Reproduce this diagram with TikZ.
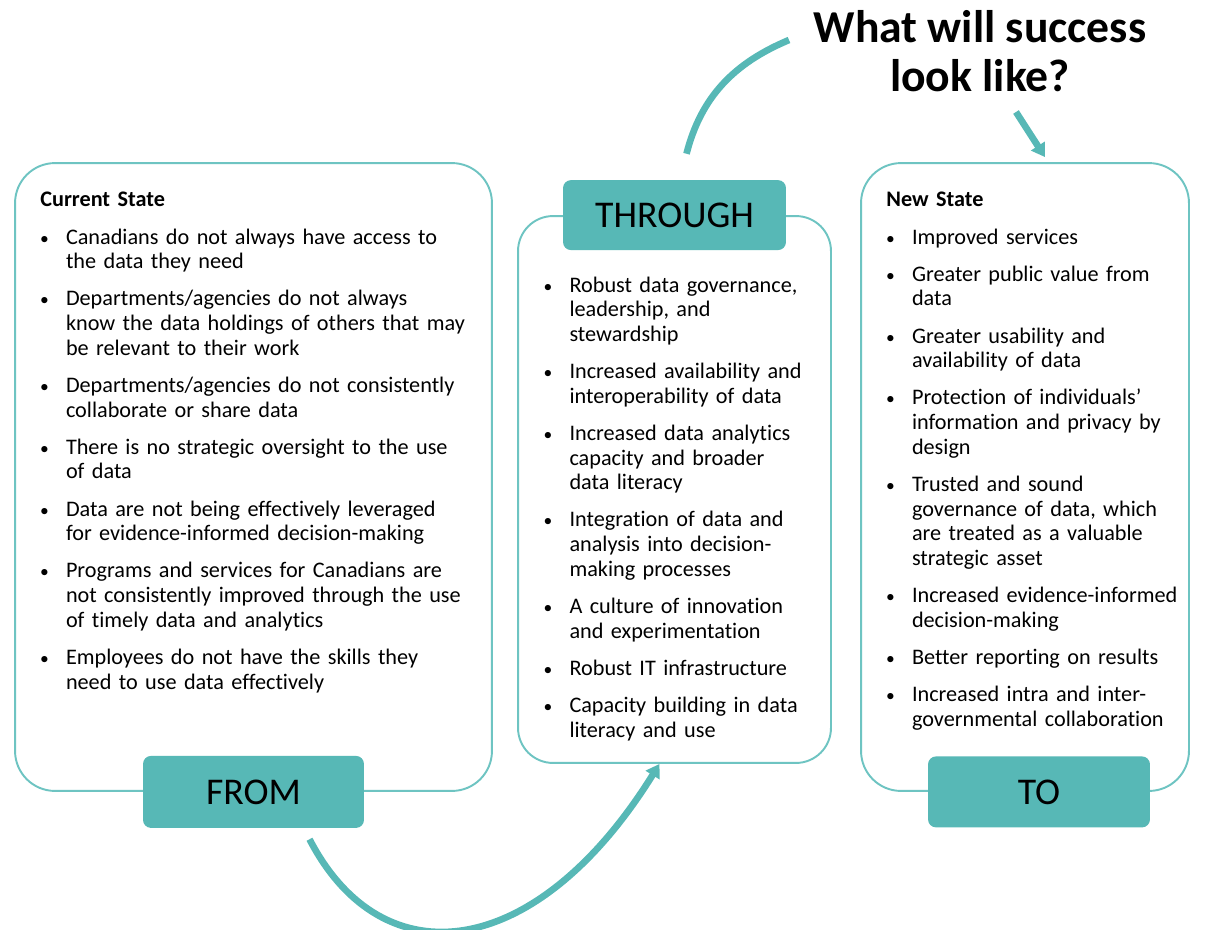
\documentclass[tikz,border=0pt]{standalone}
\usepackage{fontspec}
\setmainfont{Carlito}[Ligatures=CommonOff]
\usepackage{enumitem}
\usetikzlibrary{positioning, calc, arrows.meta}

\definecolor{tabteal}{HTML}{57B8B6}
\definecolor{rimteal}{HTML}{6EC4C2}

\setlist[itemize]{label={\fontsize{10}{10}\selectfont\textbullet}, leftmargin=14.6pt, labelsep=9.8pt,
                  itemsep=7.1pt, parsep=0pt, topsep=7.6pt, partopsep=0pt}

\tikzset{
	statebox/.style={draw=rimteal, line width=1.1pt, fill=white, rounded corners=0.8cm},
	tabbox/.style={fill=tabteal, rounded corners=0.16cm, inner sep=0pt,
	               font=\fontsize{21.5}{24}\selectfont},
	itemtext/.style={anchor=base west, inner sep=0pt, align=left,
	                 font=\fontsize{12.65}{14.05}\selectfont},
	flow/.style={draw=tabteal, line width=3.8pt},
	flowtip/.style={-{Triangle[width=9pt, length=7.5pt]}}
}

\begin{document}
\begin{tikzpicture}[x=0.02cm, y=-0.02cm]
	\useasboundingbox (0,0) rectangle (1221,930);
	\node[statebox, minimum width=9.54cm, minimum height=12.56cm] (leftbox) at (253.5,477) {};
	\node[statebox, minimum width=6.26cm, minimum height=10.94cm, rounded corners=0.7cm] (midbox) at (674.5,489.5) {};
	\node[statebox, minimum width=6.56cm, minimum height=12.56cm] (rightbox) at (1025,477) {};
	\node[tabbox, minimum width=4.42cm, minimum height=1.44cm] (fromtab) at (leftbox.south) {FROM};
	\node[tabbox, minimum width=4.46cm, minimum height=1.40cm] (throughtab) at (midbox.north) {THROUGH};
	\node[tabbox, minimum width=4.44cm, minimum height=1.42cm] (totab) at ($(rightbox.south)+(14,0)$) {TO};

	\node[itemtext, text width=8.8cm] (leftlist) at (40,206)
	  {\textbf{Current State}
	   \begin{itemize}
	     \item Canadians do not always have access to\\the data they need
	     \item Departments/agencies do not always\\know the data holdings of others that may\\be relevant to their work
	     \item Departments/agencies do not consistently\\collaborate or share data
	     \item There is no strategic oversight to the use\\of data
	     \item Data are not being effectively leveraged\\for evidence-informed decision-making
	     \item Programs and services for Canadians are\\not consistently improved through the use\\of timely data and analytics
	     \item Employees do not have the skills they\\need to use data effectively
	   \end{itemize}};
	\node[itemtext, text width=5.6cm] (midlist) at (543.5,254)
	  {\begin{itemize}
	     \item Robust data governance,\\leadership, and\\stewardship
	     \item Increased availability and\\interoperability of data
	     \item Increased data analytics\\capacity and broader\\data literacy
	     \item Integration of data and\\analysis into decision-\\making processes
	     \item A culture of innovation\\and experimentation
	     \item Robust IT infrastructure
	     \item Capacity building in data\\literacy and use
	   \end{itemize}};
	\node[itemtext, text width=6.2cm] (rightlist) at (886,206)
	  {\textbf{New State}
	   \begin{itemize}
	     \item Improved services
	     \item Greater public value from\\data
	     \item Greater usability and\\availability of data
	     \item Protection of individuals'\\information and privacy by\\design
	     \item Trusted and sound\\governance of data, which\\are treated as a valuable\\strategic asset
	     \item Increased evidence-informed\\decision-making
	     \item Better reporting on results
	     \item Increased intra and inter-\\governmental collaboration
	   \end{itemize}};

	\node[font=\bfseries\fontsize{26}{27.5}\selectfont, align=center, inner sep=0pt] (question) at (980,51) {What will success\\look like?};

	\coordinate (loopstart) at ($(fromtab.south)+(56,11)$);
	\coordinate (loopend) at ($(midbox.south)+(-15,0)$);
	\draw[flow, flowtip] (loopstart) .. controls (383,981) and (537,961) .. (loopend);
	\coordinate (risestart) at ($(throughtab.north)+(12,-26)$);
	\coordinate (riseend) at (789,40);
	\draw[flow] (risestart) .. controls (701,97) and (734,63) .. (riseend);
	\coordinate (dropstart) at (1016,112);
	\draw[flow, flowtip] (dropstart) -- ($(rightbox.north)+(20,-5)$);
\end{tikzpicture}
\end{document}
